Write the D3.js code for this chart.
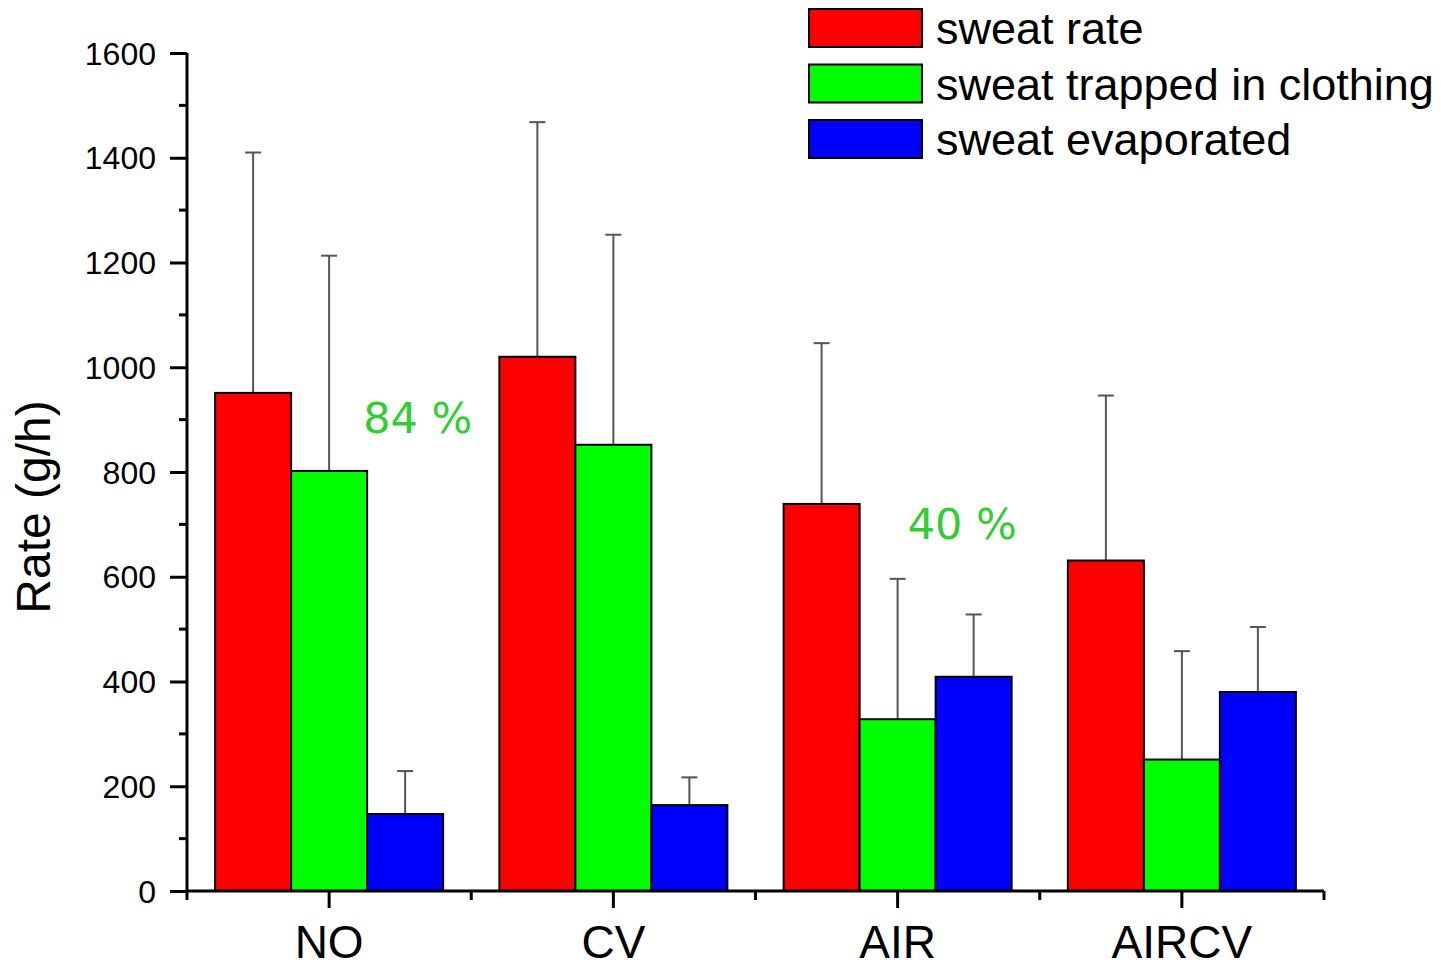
<!DOCTYPE html>
<html>
<head>
<meta charset="utf-8">
<script src="https://cdn.jsdelivr.net/npm/d3@7"></script>
<style>
  html, body { margin: 0; padding: 0; background: #fff; }
  svg { display: block; font-family: "Liberation Sans", Arial, sans-serif; }
</style>
</head>
<body>
<svg id="chart" width="1441" height="963"></svg>
<script>
// Conditions along the x axis
const categories = ["NO", "CV", "AIR", "AIRCV"];
// Series shown per condition
const seriesNames = ["sweat rate", "sweat trapped in clothing", "sweat evaporated"];
const seriesColors = ["#ff0000", "#00ff00", "#0000ff"];
// Mean rates (g/h)
const sweatRate = [951, 1020, 739, 631];
const sweatTrapped = [802, 852, 328, 251];
const sweatEvaporated = [147, 164, 409, 380];
// Upper error bar ends (g/h)
const sweatRateErr = [1410, 1468, 1046, 946];
const sweatTrappedErr = [1213, 1253, 596, 458];
const sweatEvaporatedErr = [229, 217, 528, 504];
// Percentage annotations: text, condition, height (g/h)
const annotationTexts = ["84 %", "40 %"];
const annotationCategories = ["NO", "AIR"];
const annotationValues = [874, 672];
const yTicks = [0, 200, 400, 600, 800, 1000, 1200, 1400, 1600];

const values = [sweatRate, sweatTrapped, sweatEvaporated];
const errs = [sweatRateErr, sweatTrappedErr, sweatEvaporatedErr];

(function draw() {
  const svg = d3.select("#chart");
  const plotLeft = 187, plotRight = 1324, plotTop = 53, plotBottom = 891;

  const x = d3.scaleBand().domain(categories).range([plotLeft, plotRight]).paddingInner(0).paddingOuter(0);
  const inner = d3.scaleBand().domain(d3.range(seriesNames.length))
    .range([0, x.bandwidth()]).paddingOuter(0.37).paddingInner(0);
  const y = d3.scaleLinear().domain([0, 1600]).range([plotBottom, plotTop]);

  // Bars and error bars
  values.forEach((vals, s) => {
    const g = svg.append("g");
    categories.forEach((c, i) => {
      const x0 = x(c) + inner(s);
      const w = inner.bandwidth();
      const cx = x0 + w / 2;
      // error bar (upper only)
      g.append("line")
        .attr("x1", cx).attr("x2", cx)
        .attr("y1", y(vals[i])).attr("y2", y(errs[s][i]))
        .attr("stroke", "#555").attr("stroke-width", 2);
      g.append("line")
        .attr("x1", cx - 8).attr("x2", cx + 8)
        .attr("y1", y(errs[s][i])).attr("y2", y(errs[s][i]))
        .attr("stroke", "#555").attr("stroke-width", 2);
      g.append("rect")
        .attr("x", x0).attr("y", y(vals[i]))
        .attr("width", w).attr("height", y(0) - y(vals[i]))
        .attr("fill", seriesColors[s]).attr("stroke", "#000").attr("stroke-width", 2);
    });
  });

  // Y axis with major and minor ticks
  const yAxis = d3.axisLeft(y).tickValues(yTicks).tickSize(17).tickPadding(14).tickFormat(d3.format("d"));
  const yg = svg.append("g").attr("transform", `translate(${plotLeft},0)`).call(yAxis);
  yg.select(".domain").attr("stroke", "#000").attr("stroke-width", 3).attr("d", `M0,${plotBottom}V${plotTop}`);
  yg.selectAll(".tick line").attr("stroke", "#000").attr("stroke-width", 3);
  yg.selectAll(".tick text").attr("font-size", 32).attr("fill", "#000").attr("dy", "0.35em");
  const yMinor = d3.range(100, 1600, 200);
  svg.append("g").selectAll("line").data(yMinor).join("line")
    .attr("x1", plotLeft - 8).attr("x2", plotLeft)
    .attr("y1", d => y(d)).attr("y2", d => y(d))
    .attr("stroke", "#000").attr("stroke-width", 3);

  // X axis
  const xg = svg.append("g").attr("transform", `translate(0,${plotBottom})`)
    .call(d3.axisBottom(x).tickSize(17).tickPadding(0));
  xg.select(".domain").attr("stroke", "#000").attr("stroke-width", 3).attr("d", `M${plotLeft},0H${plotRight}`);
  xg.selectAll(".tick line").attr("stroke", "#000").attr("stroke-width", 3);
  xg.selectAll(".tick text").attr("font-size", 46).attr("fill", "#000")
    .attr("y", 67).attr("dy", null);
  // minor ticks at band boundaries
  const boundaries = categories.map(c => x(c)).concat([x(categories[categories.length - 1]) + x.bandwidth()]);
  svg.append("g").selectAll("line").data(boundaries).join("line")
    .attr("x1", d => d).attr("x2", d => d)
    .attr("y1", plotBottom).attr("y2", plotBottom + 9)
    .attr("stroke", "#000").attr("stroke-width", 3);

  // Y axis title
  svg.append("text")
    .attr("transform", `translate(50,507) rotate(-90)`)
    .attr("text-anchor", "middle")
    .attr("font-size", 48)
    .text("Rate (g/h)");

  // Percentage annotations, set beside the middle bar of each group
  const annShift = [-4, -28];
  svg.append("g").selectAll("text").data(annotationTexts).join("text")
    .attr("x", (d, i) => x(annotationCategories[i]) + inner(2) + annShift[i])
    .attr("y", (d, i) => y(annotationValues[i]))
    .attr("font-family", "DejaVu Sans, sans-serif")
    .attr("font-size", 43)
    .attr("fill", "#33cc33")
    .text(d => d);

  // Legend
  const legend = svg.append("g").attr("transform", "translate(809,9)");
  seriesNames.forEach((name, i) => {
    const row = legend.append("g").attr("transform", `translate(0,${i * 55.5})`);
    row.append("rect").attr("width", 113).attr("height", 38)
      .attr("fill", seriesColors[i]).attr("stroke", "#000").attr("stroke-width", 2);
    row.append("text").attr("x", 127).attr("y", 35).attr("font-size", 45).text(name);
  });
})();
</script>
</body>
</html>
